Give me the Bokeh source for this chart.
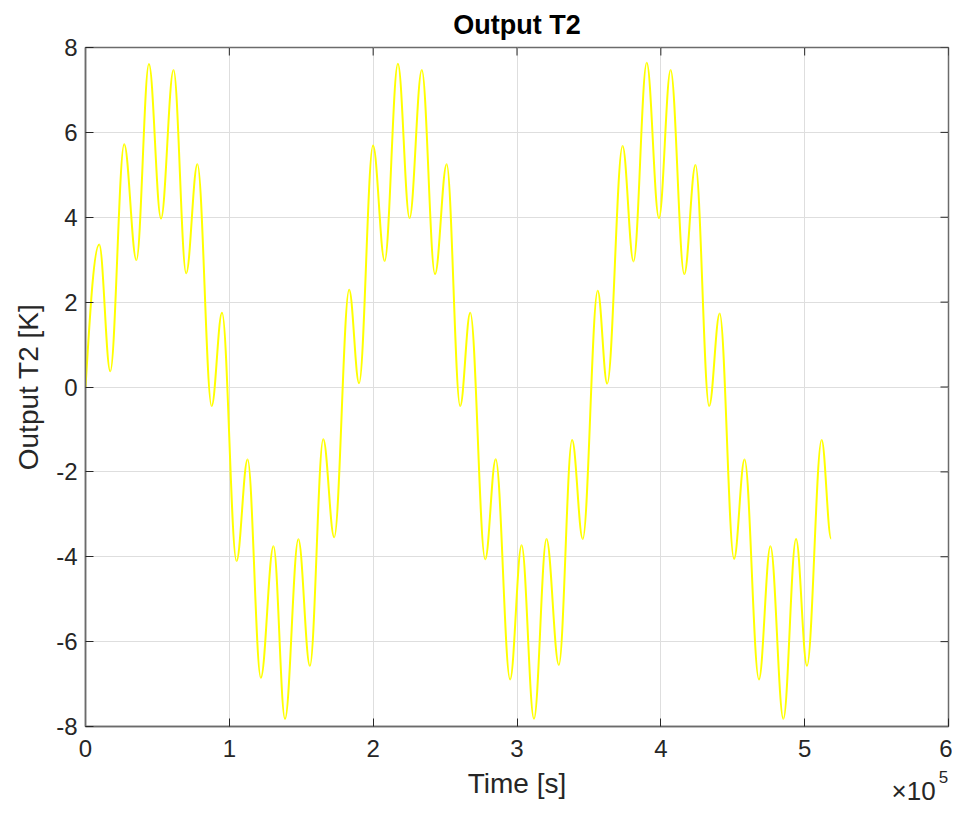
import numpy as np
from bokeh.plotting import figure
from bokeh.models import FixedTicker, LinearAxis, Range1d
from bokeh.embed import file_html
from bokeh.resources import INLINE

# Extrema of the curve (time in s, temperature in K)
time_s = [0, 9550, 17200, 26900, 35400, 44100, 52500, 61200, 70000, 77800,
          87700, 94900, 105000, 112700, 121900, 130700, 138700, 148000, 156000, 165300,
          172900, 183300, 190200, 199900, 208000, 217200, 225300, 233800, 243000, 251100,
          260500, 267500, 277900, 285200, 295200, 303200, 311800, 320500, 329100, 338300,
          345700, 356100, 362700, 373400, 381000, 390200, 398700, 406800, 416300, 424100,
          433600, 440900, 450900, 458200, 468200, 476200, 485200, 494000, 501600, 511800,
          518400]
temp_k = [0.0, 3.36, 0.37, 5.72, 2.99, 7.61, 3.97, 7.47, 2.68, 5.25,
          -0.45, 1.75, -4.10, -1.71, -6.85, -3.75, -7.82, -3.59, -6.57, -1.23,
          -3.54, 2.29, 0.09, 5.69, 2.97, 7.62, 3.98, 7.47, 2.66, 5.25,
          -0.45, 1.75, -4.06, -1.70, -6.89, -3.73, -7.82, -3.58, -6.55, -1.25,
          -3.58, 2.27, 0.08, 5.68, 2.96, 7.64, 3.98, 7.47, 2.66, 5.23,
          -0.45, 1.73, -4.05, -1.71, -6.89, -3.75, -7.82, -3.58, -6.57, -1.25,
          -3.57]

x_ticks = [0, 100000, 200000, 300000, 400000, 500000, 600000]
x_tick_labels = ["0", "1", "2", "3", "4", "5", "6"]
y_ticks = [-8, -6, -4, -2, 0, 2, 4, 6, 8]
y_tick_labels = ["-8", "-6", "-4", "-2", "0", "2", "4", "6", "8"]
x_multiplier = "\u00d710"
x_exponent = "5"

FONT = "Liberation Sans"
TXT = "#262626"
AX = "#6b6b6b"
GRID = "#dedede"
X0, X1, Y0, Y1 = 0, 600000, -8, 8

p = figure(width=952, height=808, output_backend="svg", toolbar_location=None,
           x_range=Range1d(X0, X1), y_range=Range1d(Y0, Y1),
           min_border_left=85, min_border_right=4, min_border_top=47, min_border_bottom=80,
           background_fill_color="white", border_fill_color="white")

p.title.text = "Output T2"
p.title.align = "center"
p.title.text_font = FONT
p.title.text_font_style = "bold"
p.title.text_font_size = "27px"
p.title.text_color = "#000000"
p.title.standoff = 15

p.outline_line_color = AX
p.outline_line_width = 1.5

xt = FixedTicker(ticks=x_ticks)
yt = FixedTicker(ticks=y_ticks)

for ax in p.xaxis:
    ax.ticker = xt
    ax.major_label_overrides = {t: l for t, l in zip(x_ticks, x_tick_labels)}
for ax in p.yaxis:
    ax.ticker = yt
    ax.major_label_overrides = {t: l for t, l in zip(y_ticks, y_tick_labels)}

for ax in list(p.xaxis) + list(p.yaxis):
    ax.major_tick_in = 8
    ax.major_tick_out = 0
    ax.minor_tick_line_color = None
    ax.axis_line_color = AX
    ax.axis_line_width = 1.5
    ax.major_tick_line_color = "#262626"
    ax.major_tick_line_width = 1
    ax.major_label_text_font = FONT
    ax.major_label_text_font_size = "24px"
    ax.major_label_text_color = TXT
    ax.axis_label_text_font = FONT
    ax.axis_label_text_font_size = "28px"
    ax.axis_label_text_font_style = "normal"
    ax.axis_label_text_color = TXT

p.xaxis.axis_label = "Time [s]"
p.yaxis.axis_label = "Output T2 [K]"
p.xaxis.major_label_standoff = 13
p.yaxis.major_label_standoff = 8
p.xaxis.axis_label_standoff = 8
p.yaxis.axis_label_standoff = 9

# x-axis multiplier (x10^5), drawn as labels of two tick-less extra axes below
mult_axis = LinearAxis(ticker=FixedTicker(ticks=[575700]),
                       major_label_overrides={575700: x_multiplier},
                       axis_line_color=None, major_tick_line_color=None,
                       minor_tick_line_color=None, major_tick_in=0, major_tick_out=0,
                       major_label_standoff=-26, major_label_text_font=FONT,
                       major_label_text_font_size="26px", major_label_text_color=TXT)
exp_axis = LinearAxis(ticker=FixedTicker(ticks=[596500]),
                      major_label_overrides={596500: x_exponent},
                      axis_line_color=None, major_tick_line_color=None,
                      minor_tick_line_color=None, major_tick_in=0, major_tick_out=0,
                      major_label_standoff=-38, major_label_text_font=FONT,
                      major_label_text_font_size="17px", major_label_text_color=TXT)
p.add_layout(mult_axis, "below")
p.add_layout(exp_axis, "below")

p.xgrid.ticker = xt
p.ygrid.ticker = yt
for g in (p.xgrid, p.ygrid):
    g.grid_line_color = GRID
    g.grid_line_width = 1

# inward ticks on the top and right edges of the box
p.ray(x=x_ticks, y=[Y1] * len(x_ticks), length=8, length_units="screen",
      angle=-np.pi / 2, line_color="#262626", line_width=1)
p.ray(x=[X1] * len(y_ticks), y=y_ticks, length=8, length_units="screen",
      angle=np.pi, line_color="#262626", line_width=1)

# Smooth rendering of the curve through its extrema with cubic Bezier segments
t = np.array(time_s, dtype=float)
v = np.array(temp_k, dtype=float)
t0, t1 = t[:-1], t[1:]
v0, v1 = v[:-1], v[1:]
d = t1 - t0
k = 0.3642
cx0 = t0 + k * d
cx1 = t1 - k * d
cy0 = v0.copy()
cy0[0] = v0[0] + k * (v1[0] - v0[0]) * 1.5708
cy1 = v1.copy()
p.bezier(x0=t0, y0=v0, x1=t1, y1=v1, cx0=cx0, cy0=cy0, cx1=cx1, cy1=cy1,
         line_color="#ffff00", line_width=2)

open("out.html", "w").write(file_html(p, INLINE))
